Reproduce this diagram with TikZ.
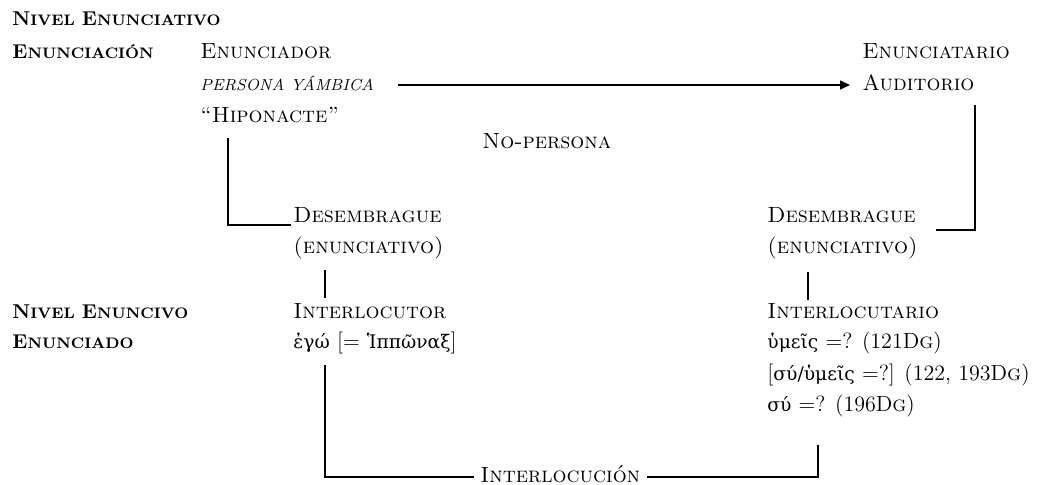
\documentclass[tikz,border=0pt]{standalone}
\usepackage{fontspec}
\newfontfamily\griego{DejaVu Serif}[Scale=0.85]
\usetikzlibrary{arrows.meta,calc}
% versalita negrita (falsa)
\newcommand{\vbf}[2]{\textbf{\fontsize{10}{13}\selectfont #1{\fontsize{7.6}{10}\selectfont #2}}}
\tikzset{
  texto/.style={anchor=west,inner sep=1pt,text height=7.5pt,text depth=2.5pt,
                font=\fontsize{11}{13}\selectfont},
  linea/.style={line width=0.8pt},
  flecha/.style={linea,-{Triangle[length=5pt,width=4.5pt]}},
}
\begin{document}
\begin{tikzpicture}[x=0.5pt,y=-0.5pt]
  \useasboundingbox (0,0) rectangle (1046,484);
  % niveles
  \node[texto] (nivA) at (10,20) {\vbf{N}{IVEL} \vbf{E}{NUNCIATIVO}};
  \node[texto] (enc) at (10,53) {\vbf{E}{NUNCIACIÓN}};
  \node[texto] (nivB) at (10,313) {\vbf{N}{IVEL} \vbf{E}{NUNCIVO}};
  \node[texto] (edo) at (10,343) {\vbf{E}{NUNCIADO}};
  % enunciacion
  \node[texto] (endor) at (198,53) {\textsc{Enunciador}};
  \node[texto] (persona) at (198,85) {\itshape\footnotesize PERSONA YÁMBICA};
  \node[texto] (hipo) at (198,117) {\textsc{“Hiponacte”}};
  \node[texto] (etario) at (860,53) {\textsc{Enunciatario}};
  \node[texto] (audit) at (860,85) {\textsc{Auditorio}};
  \node[texto] (nopers) at (480,143) {\textsc{No-persona}};
  % desembrague
  \node[texto] (desI) at (291,217) {\textsc{Desembrague}};
  \node[texto] (enuI) at (291,248) {\textsc{(enunciativo)}};
  \node[texto] (desD) at (765,217) {\textsc{Desembrague}};
  \node[texto] (enuD) at (765,248) {\textsc{(enunciativo)}};
  % enunciado
  \node[texto] (locutor) at (291,313) {\textsc{Interlocutor}};
  \node[texto] (ego) at (291,343) {{\griego ἐγώ} [= {\griego Ἱππῶναξ}]};
  \node[texto] (locutario) at (765,313) {\textsc{Interlocutario}};
  \node[texto] (hymeis) at (765,343) {{\griego ὑμεῖς} =? (121D\textsc{g})};
  \node[texto] (sy1) at (765,375) {[{\griego σύ/ὑμεῖς} =?] (122, 193D\textsc{g})};
  \node[texto] (sy2) at (765,406) {{\griego σύ} =? (196D\textsc{g})};
  \node[texto,inner xsep=3pt] (interloc) at (474,477) {\textsc{Interlocución}};
  % conectores
  \draw[flecha,shorten <=11pt,shorten >=5pt] (persona.east) -- (audit.west);
  \draw[linea] ($(hipo.south west)+(30,9)$) |- ($(desI.base west)+(0,3)$);
  \draw[linea] ($(audit.south east)+(-2,8)$) |- ($(desD.base east)+(18,8)$);
  \draw[linea] ($(enuI.south west)+(34,10)$) -- ($(locutor.north west)+(34,-3)$);
  \draw[linea] ($(enuD.south west)+(43,12)$) -- ($(locutario.north west)+(43,-1)$);
  \draw[linea] ($(ego.south west)+(34,10)$) |- (interloc.west);
  \draw[linea] (interloc.east) -| ($(sy2.south west)+(53,27)$);
\end{tikzpicture}
\end{document}
